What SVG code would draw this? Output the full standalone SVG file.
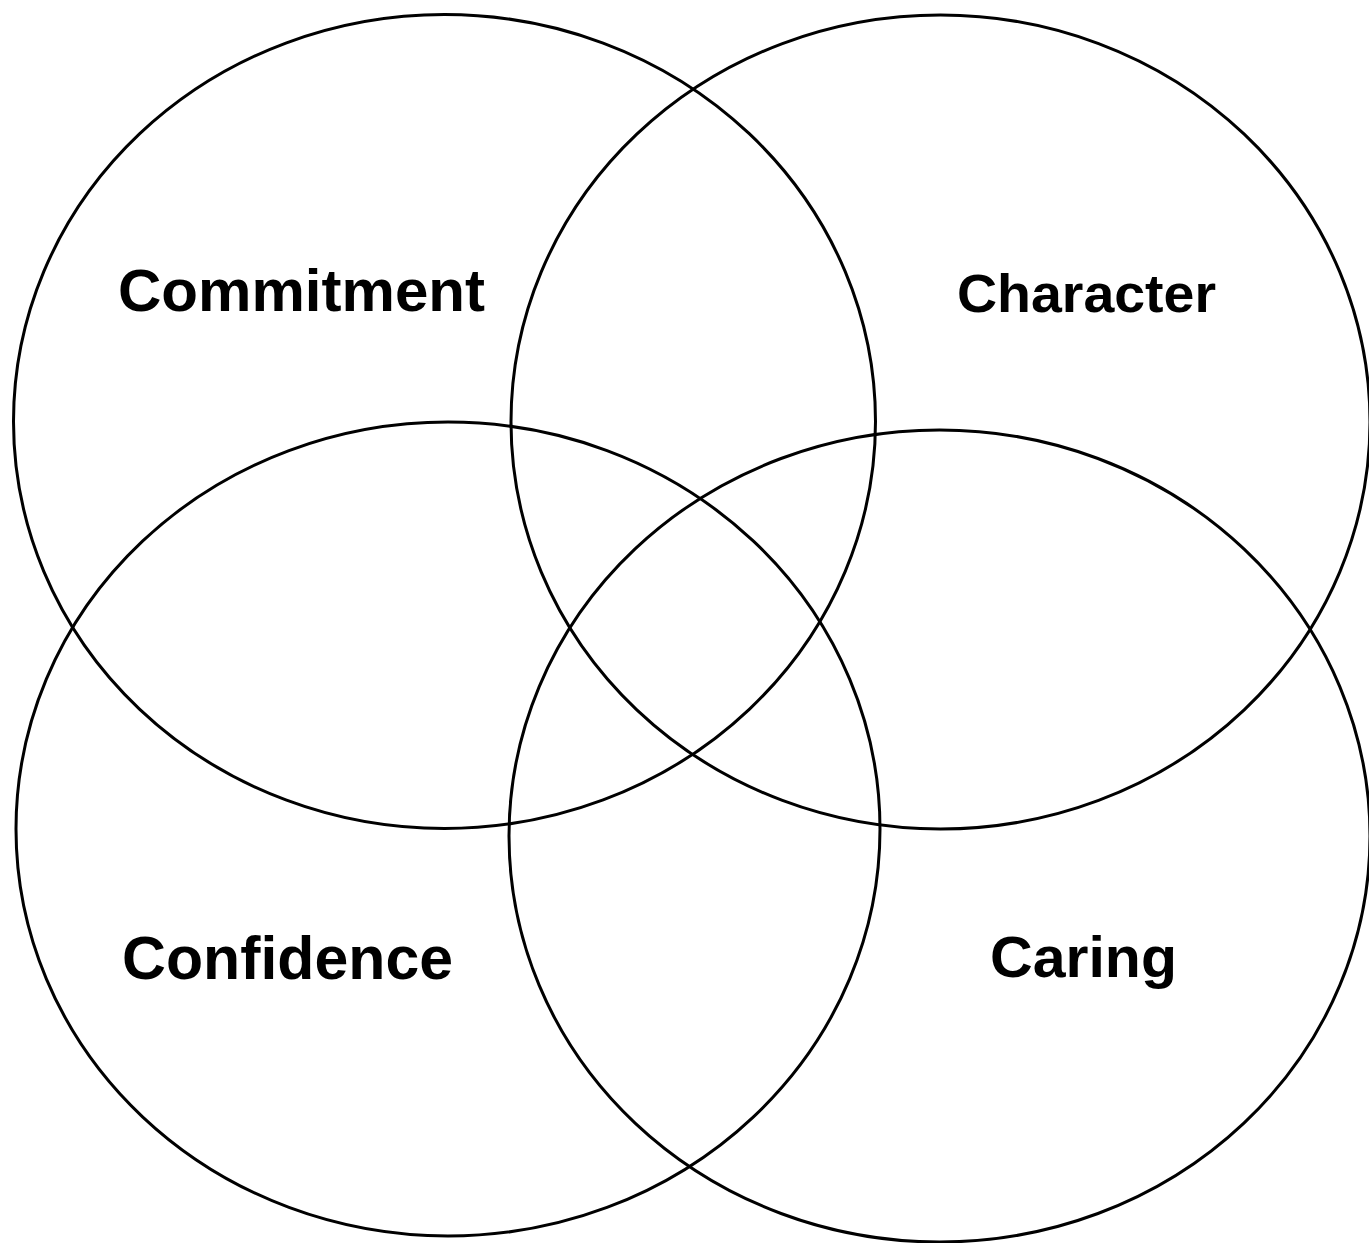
<svg xmlns="http://www.w3.org/2000/svg" width="1369" height="1243" viewBox="0 0 1369 1243">
<style>
.c{fill:none;stroke:#000;stroke-width:3}
.t{font-family:"Liberation Sans",Arial,sans-serif;font-weight:bold;fill:#000;text-anchor:middle}
</style>
<rect width="1369" height="1243" fill="#fff"/>
<g id="commitment">
<ellipse class="c" cx="444.5" cy="421.5" rx="431" ry="407"/>
<text class="t" x="301.5" y="311" font-size="60" textLength="367" lengthAdjust="spacingAndGlyphs">Commitment</text>
</g>
<g id="character">
<ellipse class="c" cx="940.5" cy="422" rx="429.5" ry="407"/>
<text class="t" x="1086.5" y="312" font-size="53" textLength="259" lengthAdjust="spacingAndGlyphs">Character</text>
</g>
<g id="confidence">
<ellipse class="c" cx="448" cy="829" rx="432" ry="407"/>
<text class="t" x="287.5" y="979" font-size="61" textLength="331" lengthAdjust="spacingAndGlyphs">Confidence</text>
</g>
<g id="caring">
<ellipse class="c" cx="939.5" cy="836" rx="430.5" ry="406"/>
<text class="t" x="1083.5" y="977" font-size="58" textLength="187" lengthAdjust="spacingAndGlyphs">Caring</text>
</g>
<g id="connectors"></g>
</svg>
